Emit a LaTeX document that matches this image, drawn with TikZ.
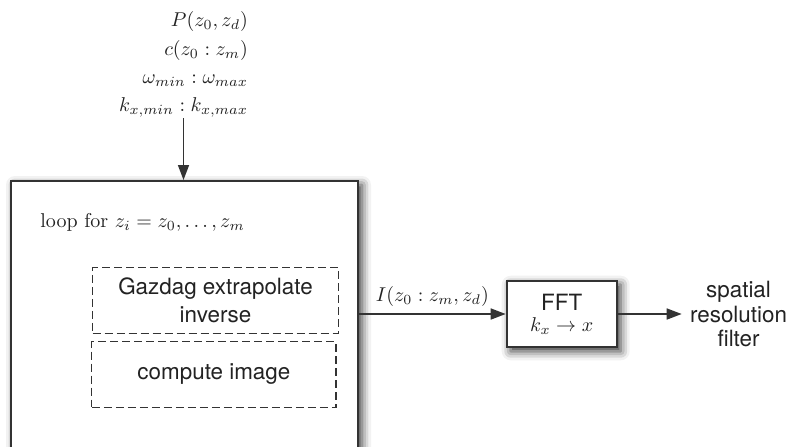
\documentclass[tikz,border=0pt]{standalone}
\usepackage{fontspec}
\newfontfamily\helv{TeX Gyre Heros}
\usetikzlibrary{arrows.meta,shadows.blur}
\definecolor{ink}{HTML}{222222}
\definecolor{edge}{HTML}{333333}
\begin{document}
\begin{tikzpicture}[x=0.5pt,y=-0.5pt,
  every node/.style={text=ink},
  box/.style={draw=edge, line width=1pt, fill=white,
    blur shadow={shadow xshift=2pt, shadow yshift=-2pt,
                 shadow blur radius=4.5pt, shadow opacity=80}},
  dbox/.style={draw=edge, line width=0.6pt, dash pattern=on 4pt off 2pt,
    align=center, inner sep=0pt,
    font=\helv\fontsize{11.2}{13.8}\selectfont},
  conn/.style={draw=edge, line width=0.8pt,
    -{Triangle[length=7.5pt,width=5.5pt]}},
  sans/.style={font=\helv\fontsize{11.2}{12.25}\selectfont},
]
\useasboundingbox (0,0) rectangle (793,446);

% input parameters
\node[align=right, anchor=south, inner sep=0pt,
      font=\fontsize{10}{14.15}\selectfont] (params) at (183.5,118)
  {$P(z_0, z_d)$\\$c(z_0 : z_m)$\\$\omega_{min} : \omega_{max}$\\$k_{x,min} : k_{x,max}$};

% depth loop
\node[box, anchor=north west, minimum width=173.5pt, minimum height=160pt,
      inner sep=0pt] (loop) at (10,180) {};
\node[anchor=base west, inner sep=0pt] (looplbl) at (40,227)
  {loop for $z_i = z_0, \ldots, z_m$};
\node[dbox, minimum width=122.8pt, minimum height=32.8pt] (gazdag)
  at (215.5,300.5) {Gazdag extrapolate\\inverse};
\node[dbox, minimum width=122.15pt, minimum height=32.8pt] (image)
  at (213.9,374.5) {compute image};

% transform
\node[box, minimum width=55pt, minimum height=33.3pt, inner sep=0pt,
      align=center, font=\fontsize{10}{10.65}\selectfont] (fft) at (561.7,314)
  {{\helv\fontsize{11.2}{10.65}\selectfont FFT}\\$k_x \to x$};

\node[sans, align=center, anchor=west, inner xsep=4pt, inner ysep=0pt]
  (filter) at (681.7,314) {spatial\\resolution\\filter};

% connectors
\draw[conn] (params.south) -- (params.south |- loop.north);
\draw[conn] (loop.east |- fft.west) --
  node[above] {$I(z_0 : z_m, z_d)$} (fft.west);
\draw[conn] (fft.east) -- (fft.east -| filter.west);
\end{tikzpicture}
\end{document}
